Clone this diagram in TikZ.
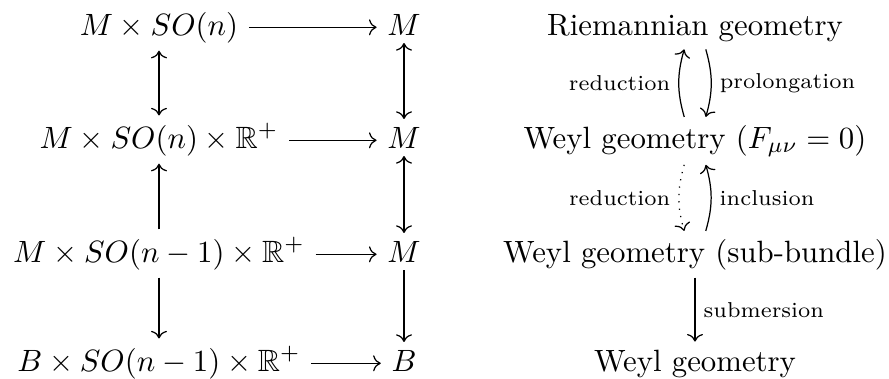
\documentclass[tikz,border=0pt]{standalone}
\usepackage{amssymb}
\usetikzlibrary{arrows.meta}
\begin{document}
\begin{tikzpicture}[x={(0.32468pt,0)}, y={(0,-0.32468pt)},
  cell/.style={inner xsep=3.3pt, inner ysep=2.4pt, anchor=base},
  lab/.style={font=\scriptsize, inner sep=2.6pt},
  cdar/.style={-{Computer Modern Rightarrow}, line width=0.4pt},
  cdbi/.style={{Computer Modern Rightarrow}-{Computer Modern Rightarrow}, line width=0.4pt}]
\useasboundingbox (0,0) rectangle (889,378);
% left diagram
\node[cell] (L1) at (159,35)  {$M \times SO(n)$};
\node[cell] (R1) at (404,35)  {$M$};
\node[cell] (L2) at (159,148) {$M \times SO(n) \times \mathbb{R}^+$};
\node[cell] (R2) at (404,148) {$M$};
\node[cell] (L3) at (159,262) {$M \times SO(n-1) \times \mathbb{R}^+$};
\node[cell] (R3) at (404,262) {$M$};
\node[cell] (L4) at (159,371) {$B \times SO(n-1) \times \mathbb{R}^+$};
\node[cell] (R4) at (404,371) {$B$};
\draw[cdar] ([yshift=2.5pt]L1.base east) -- ([yshift=2.5pt]R1.base west);
\draw[cdar] ([yshift=2.5pt]L2.base east) -- ([yshift=2.5pt]R2.base west);
\draw[cdar] ([yshift=2.5pt]L3.base east) -- ([yshift=2.5pt]R3.base west);
\draw[cdar] ([yshift=2.5pt]L4.base east) -- ([yshift=2.5pt]R4.base west);
\draw[cdbi] (L1) -- (L2);
\draw[cdar] (L3) -- (L2);
\draw[cdar] (L3) -- (L4);
\draw[cdbi] (R1) -- (R2);
\draw[cdbi] (R2) -- (R3);
\draw[cdar] (R3) -- (R4);
% right diagram
\node[cell] (G1) at (695,35)  {Riemannian geometry};
\node[cell] (G2) at (695,148) {Weyl geometry $(F_{\mu\nu} = 0)$};
\node[cell] (G3) at (695,262) {Weyl geometry (sub-bundle)};
\node[cell] (G4) at (695,371) {Weyl geometry};
\draw[cdar] ([xshift=-3.5pt]G2.north) to[bend left=16] node[lab, midway, left] {reduction} ([xshift=-3.5pt]G1.south);
\draw[cdar] ([xshift=3.5pt]G1.south) to[bend left=16] node[lab, midway, right] {prolongation} ([xshift=3.5pt]G2.north);
\draw[cdar, dotted] ([xshift=-3.5pt]G2.south) to[bend right=16] node[lab, midway, left] {reduction} ([xshift=-3.5pt]G3.north);
\draw[cdar] ([xshift=3.5pt]G3.north) to[bend right=16] node[lab, midway, right] {inclusion} ([xshift=3.5pt]G2.south);
\draw[cdar] (G3) -- node[lab, midway, right] {submersion} (G4);
\end{tikzpicture}
\end{document}
